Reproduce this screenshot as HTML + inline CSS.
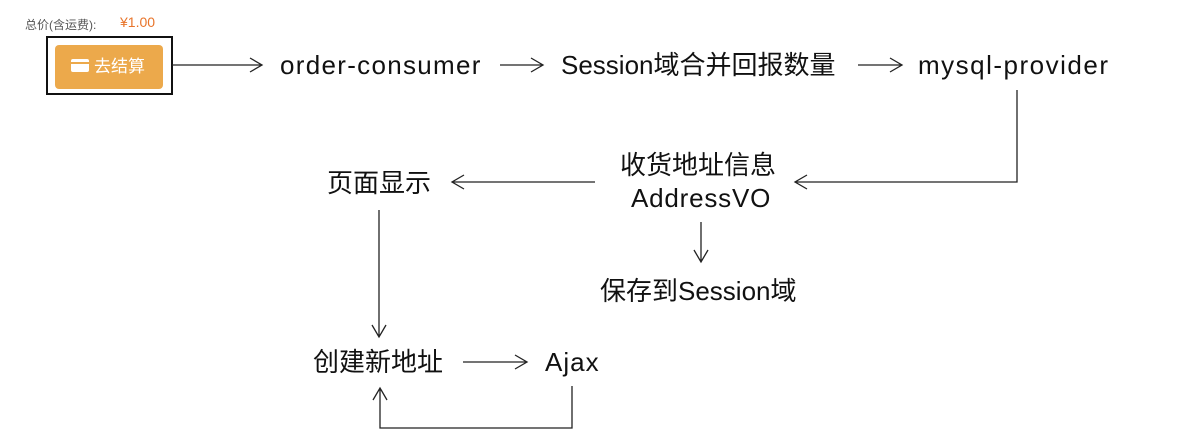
<!DOCTYPE html>
<html><head><meta charset="utf-8"><style>
body{margin:0;width:1195px;height:444px;background:#fff;position:relative;overflow:hidden;font-family:"Liberation Sans","Noto Sans CJK SC",sans-serif;}
.t{position:absolute;font-size:26px;color:#111;white-space:nowrap;line-height:1;}
svg{position:absolute;left:0;top:0}
</style></head><body>
<div style="position:absolute;left:25px;top:16px;font-size:12px;color:#555;">总价(含运费):</div>
<div style="position:absolute;left:120px;top:14px;font-size:14px;color:#e8742a;">¥1.00</div>
<div style="position:absolute;left:46px;top:36px;width:123px;height:55px;border:2px solid #111;"></div>
<div style="position:absolute;left:55px;top:45px;width:108px;height:44px;background:#eca94b;border-radius:4px;color:#fff;font-size:17px;line-height:44px;">
<span style="position:absolute;left:16px;top:14px;width:18px;height:13px;background:#fff;border-radius:2px;"><span style="position:absolute;left:0;top:3px;width:18px;height:2px;background:#eca94b"></span></span>
<span style="position:absolute;left:39px;top:0;">去结算</span></div>
<div class="t" style="left:280px;top:52px;letter-spacing:1.3px">order-consumer</div>
<div class="t" style="left:561px;top:52px">Session域合并回报数量</div>
<div class="t" style="left:918px;top:52px;letter-spacing:1.5px">mysql-provider</div>
<div class="t" style="left:620px;top:152px">收货地址信息</div>
<div class="t" style="left:631px;top:185px;letter-spacing:0.8px">AddressVO</div>
<div class="t" style="left:327px;top:170px">页面显示</div>
<div class="t" style="left:600px;top:278px">保存到Session域</div>
<div class="t" style="left:313px;top:349px">创建新地址</div>
<div class="t" style="left:545px;top:349px;letter-spacing:1px">Ajax</div>
<svg width="1195" height="444" fill="none" stroke="#222" stroke-width="1.3">
<path d="M172 65H262M250 58L262 65L250 72"/>
<path d="M500 65H543M531 58L543 65L531 72"/>
<path d="M858 65H902M890 58L902 65L890 72"/>
<path d="M1017 90V182H795M807 175L795 182L807 189"/>
<path d="M595 182H452M464 175L452 182L464 189"/>
<path d="M701 222V262M694 250L701 262L708 250"/>
<path d="M379 210V337M372 325L379 337L386 325"/>
<path d="M463 362H527M515 355L527 362L515 369"/>
<path d="M572 386V428H380V388M373 400L380 388L387 400"/>
</svg>
</body></html>
